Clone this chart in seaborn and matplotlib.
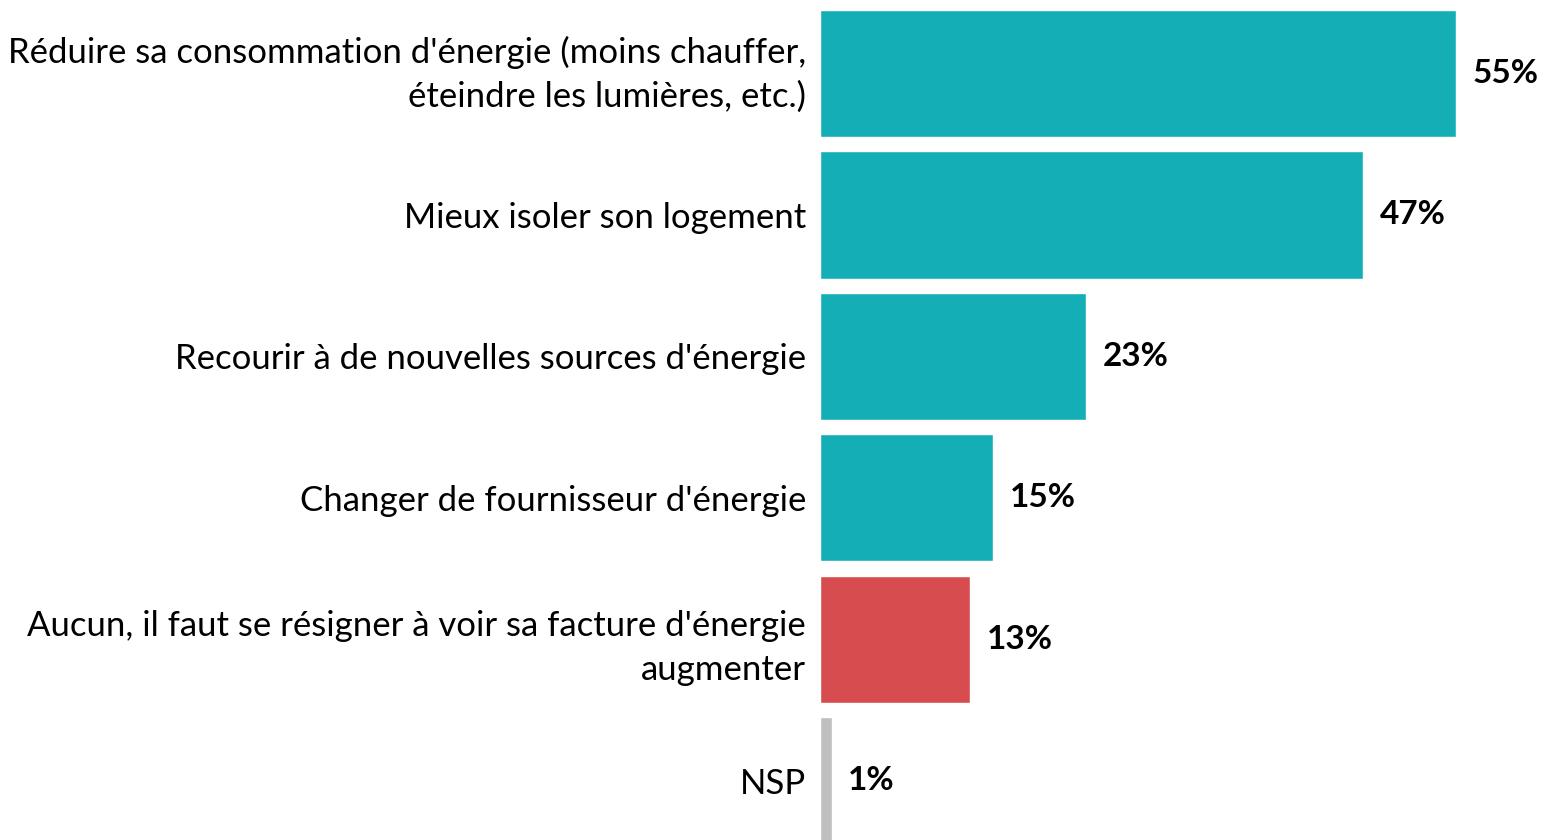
import matplotlib
matplotlib.use("Agg")
import matplotlib.pyplot as plt
import matplotlib.transforms as mtransforms
import seaborn as sns
import pandas as pd

categories = [
    "Réduire sa consommation d'énergie (moins chauffer,\néteindre les lumières, etc.)",
    "Mieux isoler son logement",
    "Recourir à de nouvelles sources d'énergie",
    "Changer de fournisseur d'énergie",
    "Aucun, il faut se résigner à voir sa facture d'énergie\naugmenter",
    "NSP",
]
values = [55, 47, 23, 15, 13, 1]
groups = ["action", "action", "action", "action", "aucun", "nsp"]
palette = {"action": "#14AFB6", "aucun": "#D64C4F", "nsp": "#BFBFBF"}

df = pd.DataFrame({"cat": categories, "val": values, "grp": groups})

sns.set_theme(style="white")
plt.rcParams["font.family"] = ["Lato", "DejaVu Sans"]

fig = plt.figure(figsize=(15.44, 8.4), dpi=100)
ax = fig.add_axes([820 / 1544, 0, 1 - 820 / 1544, 1])

sns.barplot(data=df, y="cat", x="val", hue="grp", palette=palette, orient="h",
            width=0.9, dodge=False, legend=False, ax=ax, saturation=1)

ax.set_xlim(0, 724 / 11.56)
ax.set_ylim(5.42, -0.52)
ax.set_xlabel("")
ax.set_ylabel("")
ax.set_xticks([])
for s in ax.spines.values():
    s.set_visible(False)
ax.tick_params(axis="y", length=0, pad=10, labelsize=25)
for i, lbl in enumerate(ax.get_yticklabels()):
    lbl.set_multialignment("right")
    lbl.set_linespacing(1.45)
    lbl.set_color("#000000")

# first (two-line) label sits slightly higher in the reference
off = mtransforms.ScaledTranslation(0, 8 / 100, fig.dpi_scale_trans)
lab0 = ax.get_yticklabels()[0]
lab0.set_transform(lab0.get_transform() + off)

for cont in ax.containers:
    ax.bar_label(cont, labels=[f"{v:.0f}%" for v in cont.datavalues], padding=12,
                 fontsize=24, fontweight="bold", color="#000000")

fig.savefig("out.png", dpi=100)
